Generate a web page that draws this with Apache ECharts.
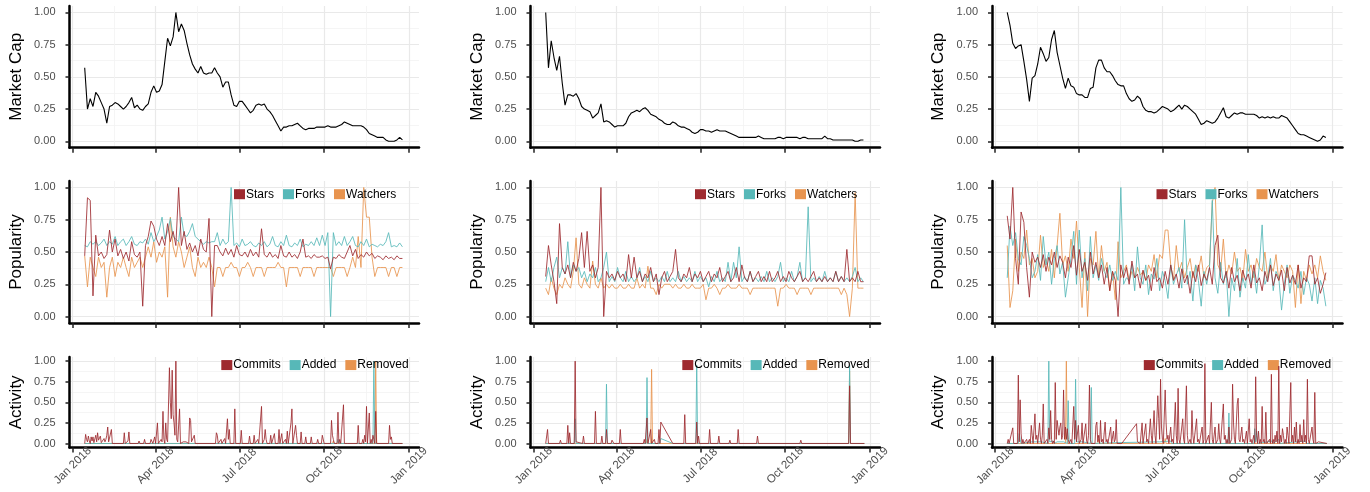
<!DOCTYPE html>
<html>
<head>
<meta charset="utf-8">
<script src="https://cdn.jsdelivr.net/npm/echarts@6/dist/echarts.min.js"></script>
<style>
html, body { margin: 0; padding: 0; background: #fff; }
#chart { width: 1370px; height: 492px; }
</style>
</head>
<body>
<div id="chart"></div>
<script>
// x values are days since 1 Jan 2018.
// market cap and popularity are read every 3 days starting at day 13
const gridStart = 13, gridStep = 3;
const tickDays = [0, 90, 181, 273, 365];
const tickLabels = ['Jan 2018', 'Apr 2018', 'Jul 2018', 'Oct 2018', 'Jan 2019'];
const minorDays = [45, 135.5, 227, 319];
const yTicks = [0, 0.25, 0.5, 0.75, 1];
const yMinor = [0.125, 0.375, 0.625, 0.875];

const rowTitles = ['Market Cap', 'Popularity', 'Activity'];
const popNames = ['Stars', 'Forks', 'Watchers'];
const actNames = ['Commits', 'Added', 'Removed'];

const capA = [0.57,0.25,0.33,0.27,0.38,0.35,0.30,0.25,0.14,0.27,
  0.28,0.30,0.29,0.27,0.25,0.27,0.30,0.34,0.26,0.28,
  0.25,0.24,0.27,0.29,0.38,0.43,0.38,0.39,0.44,0.62,
  0.80,0.74,0.81,1.00,0.85,0.91,0.86,0.76,0.67,0.60,
  0.56,0.53,0.58,0.53,0.52,0.53,0.53,0.57,0.53,0.50,
  0.42,0.46,0.46,0.36,0.28,0.27,0.31,0.31,0.28,0.25,
  0.22,0.24,0.28,0.29,0.28,0.29,0.25,0.23,0.20,0.16,
  0.12,0.08,0.11,0.11,0.12,0.12,0.13,0.14,0.12,0.10,
  0.09,0.10,0.10,0.10,0.11,0.11,0.11,0.11,0.12,0.11,
  0.11,0.11,0.12,0.13,0.15,0.14,0.13,0.12,0.12,0.12,
  0.12,0.11,0.09,0.06,0.05,0.04,0.03,0.03,0.03,0.01,
  0.00,0.00,0.00,0.01,0.03,0.01];
const capB = [1.00,0.57,0.78,0.65,0.55,0.66,0.45,0.28,0.36,0.36,
  0.35,0.37,0.33,0.27,0.25,0.24,0.23,0.18,0.20,0.22,
  0.29,0.15,0.16,0.15,0.13,0.11,0.12,0.12,0.12,0.14,
  0.19,0.22,0.23,0.24,0.23,0.25,0.26,0.24,0.21,0.20,
  0.19,0.17,0.16,0.14,0.13,0.13,0.15,0.14,0.12,0.11,
  0.11,0.10,0.09,0.07,0.06,0.07,0.09,0.09,0.08,0.08,
  0.07,0.08,0.09,0.08,0.08,0.08,0.07,0.06,0.05,0.04,
  0.03,0.03,0.03,0.03,0.03,0.03,0.03,0.04,0.03,0.02,
  0.02,0.02,0.02,0.02,0.03,0.03,0.02,0.03,0.03,0.03,
  0.03,0.03,0.02,0.03,0.03,0.02,0.02,0.02,0.02,0.02,
  0.02,0.04,0.02,0.02,0.01,0.01,0.01,0.01,0.01,0.01,
  0.01,0.01,0.00,0.00,0.01,0.01];
const capC = [1.00,0.90,0.76,0.72,0.74,0.75,0.62,0.48,0.31,0.49,
  0.51,0.60,0.73,0.68,0.62,0.65,0.79,0.86,0.69,0.59,
  0.49,0.41,0.49,0.43,0.42,0.37,0.36,0.36,0.34,0.34,
  0.41,0.42,0.57,0.63,0.63,0.57,0.54,0.54,0.51,0.47,
  0.44,0.43,0.43,0.37,0.33,0.31,0.32,0.35,0.33,0.27,
  0.24,0.23,0.23,0.22,0.23,0.25,0.27,0.26,0.25,0.23,
  0.24,0.26,0.28,0.25,0.28,0.27,0.25,0.23,0.21,0.17,
  0.13,0.14,0.16,0.15,0.14,0.15,0.18,0.22,0.26,0.19,
  0.18,0.20,0.22,0.21,0.22,0.22,0.21,0.21,0.21,0.21,
  0.20,0.18,0.19,0.18,0.19,0.18,0.19,0.18,0.18,0.20,
  0.19,0.18,0.15,0.12,0.09,0.06,0.05,0.05,0.04,0.03,
  0.02,0.01,0.00,0.01,0.04,0.03];

const starsA = [0.47,0.92,0.90,0.16,0.63,0.47,0.50,0.45,0.48,0.67,
  0.50,0.60,0.47,0.52,0.45,0.50,0.43,0.58,0.48,0.46,
  0.50,0.08,0.55,0.62,0.74,0.70,0.60,0.55,0.62,0.55,
  0.72,0.58,0.66,0.55,1.00,0.55,0.66,0.52,0.57,0.50,
  0.55,0.47,0.60,0.52,0.50,0.76,0.00,0.55,0.55,0.50,
  0.47,0.53,0.48,0.52,0.46,0.55,0.48,0.47,0.50,0.46,
  0.52,0.47,0.50,0.46,0.68,0.48,0.46,0.50,0.46,0.48,
  0.45,0.55,0.47,0.46,0.50,0.46,0.48,0.45,0.50,0.60,
  0.46,0.47,0.45,0.48,0.46,0.46,0.47,0.45,0.46,0.37,
  0.46,0.45,0.48,0.46,0.45,0.50,0.55,0.47,0.52,0.45,
  0.48,0.46,0.50,0.47,0.49,0.45,0.47,0.46,0.44,0.47,
  0.45,0.46,0.44,0.47,0.45,0.45];
const forksA = [0.55,0.54,0.58,0.56,0.58,0.55,0.57,0.60,0.55,0.58,
  0.56,0.62,0.55,0.58,0.60,0.55,0.58,0.62,0.56,0.55,
  0.58,0.57,0.60,0.56,0.65,0.58,0.62,0.67,0.77,0.60,
  0.66,0.76,0.62,0.60,0.58,0.77,0.63,0.62,0.66,0.72,
  0.62,0.60,0.58,0.56,0.58,0.57,0.58,0.58,0.65,0.55,
  0.60,0.56,0.58,1.00,0.55,0.57,0.54,0.60,0.55,0.56,
  0.58,0.55,0.54,0.57,0.55,0.58,0.54,0.56,0.62,0.55,
  0.54,0.58,0.55,0.63,0.55,0.54,0.57,0.55,0.60,0.54,
  0.56,0.55,0.58,0.55,0.61,0.55,0.63,0.55,0.65,0.00,
  0.65,0.55,0.58,0.55,0.62,0.55,0.58,0.62,0.55,0.54,
  0.58,0.55,0.60,0.54,0.56,0.55,0.54,0.56,0.55,0.58,
  0.65,0.54,0.55,0.54,0.57,0.54];
const watchersA = [0.47,0.23,0.46,0.38,0.31,0.46,0.38,0.42,0.15,0.38,
  0.46,0.31,0.42,0.38,0.46,0.38,0.31,0.46,0.38,0.42,
  0.46,0.38,0.46,0.54,0.46,0.58,0.42,0.50,0.46,0.54,
  0.15,0.77,0.54,0.46,0.58,0.50,0.38,0.46,0.54,0.38,
  0.31,0.46,0.38,0.42,0.38,0.46,0.38,0.23,0.38,0.38,
  0.31,0.38,0.38,0.42,0.38,0.38,0.31,0.38,0.38,0.42,
  0.38,0.31,0.38,0.38,0.38,0.31,0.38,0.38,0.38,0.38,
  0.42,0.38,0.38,0.23,0.38,0.38,0.38,0.38,0.31,0.38,
  0.38,0.38,0.38,0.31,0.38,0.38,0.38,0.38,0.38,0.38,
  0.31,0.38,0.38,0.38,0.38,0.31,0.38,0.46,0.38,0.62,
  0.38,1.00,0.77,0.77,0.46,0.31,0.38,0.38,0.38,0.38,
  0.31,0.38,0.38,0.31,0.38,0.38];

const starsB = [0.31,0.55,0.40,0.27,0.10,0.72,0.38,0.33,0.40,0.30,
  0.42,0.35,0.45,0.65,0.38,0.66,0.35,0.40,0.30,0.38,
  1.00,0.00,0.35,0.30,0.33,0.28,0.35,0.30,0.33,0.27,
  0.48,0.30,0.46,0.30,0.35,0.27,0.33,0.30,0.38,0.27,
  0.33,0.17,0.30,0.35,0.27,0.31,0.35,0.52,0.30,0.27,
  0.33,0.30,0.38,0.27,0.33,0.30,0.35,0.27,0.31,0.35,
  0.27,0.33,0.30,0.38,0.27,0.31,0.35,0.27,0.30,0.38,
  0.27,0.40,0.30,0.27,0.35,0.27,0.31,0.35,0.27,0.31,
  0.27,0.35,0.27,0.30,0.35,0.27,0.31,0.27,0.35,0.30,
  0.27,0.31,0.35,0.27,0.30,0.27,0.31,0.35,0.27,0.30,
  0.27,0.31,0.27,0.30,0.27,0.35,0.27,0.31,0.27,0.52,
  0.27,0.30,0.27,0.35,0.27,0.27];
const forksB = [0.27,0.38,0.27,0.38,0.46,0.30,0.38,0.33,0.58,0.30,
  0.40,0.35,0.38,0.30,0.35,0.27,0.33,0.30,0.38,0.27,
  0.30,0.38,0.50,0.27,0.31,0.27,0.38,0.30,0.27,0.35,
  0.27,0.31,0.27,0.30,0.38,0.27,0.31,0.27,0.35,0.27,
  0.30,0.27,0.31,0.27,0.35,0.27,0.30,0.27,0.35,0.27,
  0.31,0.27,0.30,0.27,0.35,0.27,0.31,0.27,0.30,0.23,
  0.31,0.27,0.35,0.27,0.30,0.27,0.42,0.27,0.42,0.30,
  0.54,0.27,0.31,0.27,0.35,0.27,0.30,0.27,0.31,0.27,
  0.35,0.27,0.30,0.27,0.31,0.42,0.27,0.30,0.27,0.35,
  0.27,0.31,0.42,0.27,0.30,0.85,0.27,0.30,0.27,0.31,
  0.27,0.35,0.27,0.30,0.27,0.35,0.27,0.31,0.27,0.30,
  0.27,0.31,0.38,0.27,0.30,0.27];
const watchersB = [0.22,0.17,0.30,0.22,0.17,0.25,0.22,0.30,0.25,0.22,
  0.35,0.61,0.25,0.22,0.30,0.25,0.22,0.43,0.25,0.22,
  0.30,0.22,0.25,0.22,0.25,0.22,0.22,0.25,0.22,0.22,
  0.25,0.22,0.22,0.30,0.22,0.25,0.22,0.39,0.22,0.22,
  0.17,0.25,0.22,0.25,0.25,0.25,0.22,0.25,0.22,0.22,
  0.25,0.22,0.22,0.25,0.22,0.22,0.22,0.25,0.13,0.22,
  0.22,0.25,0.22,0.17,0.22,0.22,0.25,0.22,0.22,0.22,
  0.25,0.22,0.22,0.22,0.17,0.22,0.22,0.22,0.22,0.22,
  0.22,0.22,0.22,0.22,0.08,0.22,0.22,0.25,0.22,0.22,
  0.22,0.17,0.22,0.22,0.22,0.22,0.17,0.22,0.22,0.22,
  0.22,0.22,0.22,0.22,0.22,0.22,0.22,0.17,0.22,0.17,
  0.00,0.22,0.96,0.22,0.22,0.22];

const starsC = [0.78,0.60,1.00,0.45,0.25,0.81,0.73,0.38,0.15,0.50,
  0.42,0.46,0.38,0.48,0.35,0.46,0.40,0.50,0.38,0.47,
  0.42,0.30,0.46,0.38,0.55,0.32,0.52,0.35,0.42,0.28,
  0.50,0.33,0.42,0.30,0.40,0.25,0.38,0.20,0.35,0.28,
  0.00,0.40,0.30,0.38,0.25,0.43,0.30,0.33,0.22,0.36,
  0.28,0.32,0.20,0.38,0.27,0.30,0.22,0.35,0.25,0.40,
  0.28,0.33,0.22,0.37,0.26,0.32,0.18,0.35,0.27,0.40,
  0.24,0.33,0.28,0.38,0.25,0.55,0.63,0.30,0.26,0.35,
  0.22,0.38,0.27,0.32,0.20,0.36,0.28,0.33,0.22,0.40,
  0.26,0.30,0.20,0.35,0.27,0.40,0.24,0.33,0.28,0.36,
  0.20,0.38,0.26,0.32,0.25,0.40,0.22,0.30,0.27,0.47,
  0.47,0.25,0.30,0.18,0.25,0.34];
const forksC = [0.30,0.70,0.55,0.65,0.45,0.40,0.62,0.55,0.45,0.30,
  0.35,0.48,0.28,0.62,0.40,0.50,0.25,0.45,0.55,0.33,
  0.42,0.15,0.30,0.45,0.66,0.25,0.67,0.30,0.45,0.20,
  0.62,0.30,0.40,0.28,0.45,0.35,0.30,0.40,0.28,0.35,
  0.28,1.00,0.25,0.30,0.28,0.40,0.20,0.54,0.30,0.25,
  0.40,0.17,0.33,0.29,0.45,0.20,0.35,0.28,0.14,0.40,
  0.25,0.32,0.38,0.22,0.75,0.25,0.35,0.12,0.40,0.28,
  0.08,0.35,0.25,0.38,0.90,0.30,0.18,0.42,0.25,0.35,
  0.00,0.30,0.20,0.45,0.15,0.30,0.22,0.48,0.25,0.35,
  0.18,0.40,0.71,0.25,0.30,0.45,0.20,0.35,0.30,0.05,
  0.25,0.40,0.18,0.32,0.28,0.22,0.35,0.17,0.30,0.25,
  0.12,0.30,0.10,0.28,0.22,0.08];
const watchersC = [0.55,0.07,0.20,0.60,0.35,0.50,0.45,0.67,0.40,0.45,
  0.30,0.35,0.63,0.38,0.45,0.35,0.52,0.30,0.55,0.80,
  0.40,0.47,0.35,0.60,0.45,0.74,0.38,0.07,0.50,0.00,
  0.45,0.40,0.66,0.30,0.55,0.35,0.42,0.20,0.35,0.13,
  0.58,0.30,0.35,0.40,0.28,0.35,0.30,0.38,0.32,0.35,
  0.28,0.40,0.35,0.48,0.30,0.48,0.45,0.67,0.67,0.40,
  0.28,0.55,0.35,0.42,0.30,0.38,0.45,0.30,0.40,0.35,
  0.47,0.30,0.38,0.40,0.88,1.00,0.40,0.35,0.60,0.30,
  0.40,0.33,0.50,0.35,0.38,0.28,0.52,0.35,0.40,0.30,
  0.45,0.38,0.35,0.50,0.30,0.40,0.35,0.48,0.28,0.40,
  0.35,0.30,0.40,0.35,0.07,0.40,0.10,0.35,0.28,0.40,
  0.33,0.40,0.30,0.47,0.35,0.28];

// activity: [day, value] vertices
const commitsA = [[13,0],[14,0.11],[15,0.05],[16,0.02],[17,0.09],[18,0.03],[19,0],[20,0.08],[21,0.03],[22,0.08],[23,0.01],[24,0],[25,0.10],[26,0.02],[27,0.13],[28,0.04],[29,0.05],[30,0.09],[31,0.01],[32,0.03],[33,0],[34,0.06],[35,0.02],[36,0.05],[37,0.10],[38,0.20],[39,0.02],[40,0.03],[41,0],[42,0.17],[43,0],
  [55,0],[56,0.13],[57,0],[59,0],[60,0.03],[61,0.14],[62,0],[71,0],[72,0.03],[73,0],[77,0],[78,0.05],[79,0],[84,0],[85,0.05],[86,0.03],[87,0],[88,0],[89,0.08],[90,0],[91,0],[92,0.25],[93,0],[95,0],[96,0.05],[97,0.02],[98,0.39],[99,0.05],[100,0],[101,0.25],[102,0.05],[103,0.02],[104,0],[105,0.92],[106,0.50],[107,0.30],[108,0.89],[109,0.35],[110,0.25],[111,0.10],[112,1.00],[113,0.05],[114,0.02],[115,0],[116,0.42],[117,0],[119,0],[120,0.02],[121,0],[123,0.02],[124,0],[126,0],[127,0.31],[128,0.28],[129,0.02],[130,0],[131,0],[132,0.10],[133,0],
  [155,0],[156,0.13],[157,0.10],[158,0],[160,0],[161,0.05],[162,0],[164,0],[165,0.06],[166,0],[167,0],[168,0.30],[169,0.05],[170,0.17],[171,0],[175,0],[176,0.42],[177,0],[182,0],[183,0.16],[184,0],[191,0],[192,0.09],[193,0],[196,0],[197,0.10],[198,0],[200,0],[201,0.05],[202,0],[204,0],[205,0.45],[206,0],[207,0],[208,0.05],[209,0.17],[210,0.05],[211,0],[214,0],[215,0.10],[216,0],[218,0],[219,0.12],[220,0],[223,0],[224,0.17],[225,0],[226,0],[227,0.12],[228,0],[230,0],[231,0.05],[232,0],[233,0.15],[234,0],[236,0],[237,0.25],[238,0.42],[239,0],[241,0],[242,0.22],[243,0.10],[244,0],[247,0],[248,0.14],[249,0],[252,0],[253,0.08],[254,0],[258,0],[259,0.08],[260,0],[265,0],[266,0.05],[267,0],[270,0],[271,0.10],[272,0.11],[273,0],
  [280,0],[281,0.28],[282,0.10],[283,0.05],[284,0],[287,0],[288,0.38],[289,0],[290,0.05],[291,0],[293,0],[294,0.47],[295,0],[297,0.02],[298,0],[309,0],[310,0.22],[311,0],[314,0],[315,0.05],[316,0],[317,0.10],[318,0.02],[319,0.45],[320,0],[321,0],[322,0.37],[323,0],[324,0.05],[325,0],[326,0.10],[327,0.05],[328,0],[329,0.39],[330,0],[343,0],[344,0.22],[345,0.05],[346,0.08],[347,0],[358,0]];
const addedA = [[13,0],[99,0],[100,0.01],[101,0],[287,0],[288,0.05],[289,0],[326,0],[327,1.00],[328,0],[358,0]];
const removedA = [[13,0],[282,0],[283,0.03],[284,0],[328,0],[329,1.00],[330,0],[358,0]];

const commitsB = [[13,0],[14,0],[15,0.17],[16,0],[28,0],[29,0.04],[30,0],[36,0],[37,0.22],[38,0],[39,0.13],[40,0],[44,0],[45,1.00],[46,0.02],[47,0],[53,0],[54,0.09],[55,0],[66,0],[67,0.39],[68,0],[73,0],[74,0.09],[75,0],[78,0],[79,0.17],[80,0],[84,0],[85,0.04],[86,0.02],[87,0],[93,0],[94,0.17],[95,0],
  [119,0],[120,0.05],[121,0],[122,0],[123,0.31],[124,0],[126,0],[127,0.17],[128,0],[130,0],[131,0.05],[132,0],[135,0],[136,0.17],[137,0],[138,0.26],[151,0],[163,0],[164,0.35],[165,0],[176,0],[177,0.26],[178,0],[179,0.09],[180,0],[190,0],[191,0.17],[192,0],[200,0],[201,0.09],[202,0],[212,0],[213,0.04],[214,0],[221,0],[222,0.17],[223,0],[242,0],[243,0.09],[244,0],[289,0],[290,0.04],[291,0],[342,0],[343,0.70],[344,0],[359,0]];
const addedB = [[13,0],[44,0],[45,0.30],[46,0],[78,0],[79,0.72],[80,0],[122,0],[123,0.80],[124,0],[137,0],[138,0.06],[151,0],[176,0],[177,0.95],[178,0],[342,0],[343,0.95],[344,0],[359,0]];
const removedB = [[13,0],[122,0],[123,0.05],[124,0],[127,0],[128,0.90],[129,0],[342,0],[343,0.88],[344,0],[359,0]];

const commitsC = [[13,0],[14,0.05],[15,0],[16,0.02],[17,0],[19,0.19],[20,0],[24,0],[25,0.83],[26,0.02],[27,0.53],[28,0.12],[29,0],[30,0.05],[31,0],[32,0.02],[34,0.05],[35,0],[37,0.05],[38,0],[39,0.22],[40,0.10],[41,0],[42,0.02],[43,0.36],[44,0.05],[45,0.10],[46,0],[48,0.25],[49,0.05],[50,0],[51,0.10],[52,0.48],[53,0],[56,0.05],[57,0],[58,0.19],[59,0.05],[60,0.40],[61,0.05],[62,0],[63,0.03],[64,0],[65,0.74],[66,0.05],[67,0.28],[68,0.30],[69,0.10],[70,0.20],[71,0.25],[72,0.05],[73,0.10],[74,0.65],[75,0.05],[76,0.20],[77,0.05],[78,0.18],[79,0.05],[80,0],[82,0.05],[83,0],[85,0.45],[86,0.05],[87,0.28],[88,0.02],[90,0.22],[91,0],[93,0.05],[94,0.25],[95,0],[97,0],[98,0.24],[99,0.03],[100,0],[101,0.10],[102,0.71],[103,0.05],[104,0],[108,0],[109,0.22],[110,0.26],[111,0.02],[112,0.10],[113,0],[114,0.28],[115,0.02],[116,0.05],[117,0],[119,0.26],[120,0.02],[121,0.05],[122,0],[124,0],[125,0.20],[126,0],[128,0.15],[129,0.02],[130,0.05],[131,0.29],[132,0],[137,0],
  [153,0.24],[154,0.02],[155,0],[157,0],[159,0.25],[160,0],[162,0],[163,0.24],[164,0.02],[165,0.05],[166,0],[168,0.30],[169,0.10],[170,0],[172,0.40],[173,0.10],[174,0],[176,0.58],[177,0.30],[178,0.05],[179,0.78],[180,0.20],[181,0.05],[182,0],[184,0.65],[185,0.25],[186,0.05],[187,0.10],[188,0],[190,0.20],[191,0.02],[192,0.05],[193,0],[195,0.50],[196,0.10],[197,0],[198,0.67],[199,0.05],[200,0],[201,0.02],[203,0.30],[204,0.05],[205,0],[207,0.70],[208,0.10],[209,0],[211,0.05],[212,0],[213,0.40],[214,0.10],[215,0],[218,0.30],[219,0.02],[220,0.05],[221,0],[223,0.02],[224,0.20],[225,0],[226,0.05],[227,0.97],[228,0],[230,0.02],[231,0.10],[232,0],[234,0.50],[235,0.05],[236,0],[238,0.20],[239,0],[241,0.05],[242,0.24],[243,0.05],[244,0],[247,0.48],[248,0.05],[249,0.10],[250,0],[251,0.05],[252,0],[253,0.20],[254,0],[256,0.05],[257,0.72],[258,0.25],[259,0.05],[260,0],[262,0.48],[263,0.55],[264,0.05],[265,0.02],[266,0],[267,0.20],[268,0.02],[269,0.05],[270,0],[272,0.15],[273,0],[275,0.30],[276,0.02],[277,0.05],[278,0],[279,0.02],[280,0.10],[281,0],
  [282,0.81],[283,0.10],[284,0],[285,0.15],[286,0],[287,0.05],[288,0],[289,0.45],[290,0.02],[291,0.05],[292,0],[293,0.38],[294,0],[297,0.05],[298,0],[299,0.84],[300,0],[301,0.05],[302,0],[303,0.10],[304,0.02],[305,0.15],[306,0],[307,0.94],[308,0],[309,0.10],[310,0.02],[311,0.18],[312,0.10],[313,0],[314,0.05],[315,0],[316,0.20],[317,0.10],[318,0],[320,0.74],[321,0.02],[322,0.10],[323,0],[324,0.20],[325,0.02],[326,0.26],[327,0],[328,0.05],[329,0],[330,0.23],[331,0.02],[332,0.10],[333,0],[334,0.29],[335,0.02],[336,0.10],[337,0],[338,0.78],[339,0.05],[340,0],[342,0.02],[343,0.20],[344,0.05],[345,0],[346,0.62],[347,0],[349,0],[350,0.02],[351,0],[359,0]];
const addedC = [[13,0],[25,0],[26,0.12],[27,0.05],[28,0],[40,0.02],[41,0],[50,0.02],[51,0],[57,0],[58,1.00],[59,0.02],[60,0],[63,0.03],[64,0],[67,0.02],[68,0.03],[69,0],[74,0.02],[75,0],[78,0],[79,0.52],[80,0.05],[81,0],[86,0],[87,0.78],[88,0.02],[89,0],[95,0.02],[96,0],[103,0],[104,0.68],[105,0],[130,0.01],[131,0],[178,0.02],[179,0],[190,0.03],[191,0],[252,0],[253,0.37],[254,0],[280,0],[281,0.18],[282,0.02],[283,0.15],[284,0],[300,0.03],[301,0],[307,0.05],[308,0],[336,0.03],[337,0],[359,0]];
const removedC = [[13,0],[76,0],[77,1.00],[78,0],[111,0],[112,0.05],[113,0],[183,0],[184,0.06],[185,0],[359,0]];

const columns = [
  { cap: capA, pop: [starsA, forksA, watchersA], act: [commitsA, addedA, removedA] },
  { cap: capB, pop: [starsB, forksB, watchersB], act: [commitsB, addedB, removedB] },
  { cap: capC, pop: [starsC, forksC, watchersC], act: [commitsC, addedC, removedC] }
];

const colors = ['#9e2a2f', '#57b8b8', '#e8944f'];
const font = 'Liberation Sans, Arial, Helvetica, sans-serif';
const colLeft = [69.5, 530.5, 992];
const colWidth = [349.5, 349.5, 350.5];
const rowTop = [6, 181, 357];
const rowHeight = [141.7, 142, 90.6];
const legendShift = [0, 164.5, 151.8];

function onGrid(arr) {
  return arr.map((v, i) => [gridStart + gridStep * i, v]);
}

const option = {
  animation: false,
  backgroundColor: '#fff',
  textStyle: { fontFamily: font },
  grid: [], xAxis: [], yAxis: [], legend: [], series: []
};

const majorLine = { color: '#e9e9e9', width: 1.2 };
const minorLine = { color: '#f3f3f3', width: 0.8 };

columns.forEach((col, c) => {
  for (let r = 0; r < 3; r++) {
    const g = option.grid.length;
    option.grid.push({
      left: colLeft[c], top: rowTop[r], width: colWidth[c], height: rowHeight[r],
      show: false, outerBoundsMode: 'none'
    });
    // main x axis: ticks, labels and major grid lines
    option.xAxis.push({
      gridIndex: g, type: 'value', min: -3.5, max: 376, position: 'bottom',
      axisLine: { show: true, onZero: false, lineStyle: { color: '#000', width: 2.5 } },
      axisTick: { show: true, customValues: tickDays, length: 5, lineStyle: { color: '#222', width: 1.5 } },
      axisLabel: {
        show: r === 2, customValues: tickDays, rotate: 45, align: 'center', verticalAlign: 'middle',
        margin: 18, fontSize: 11.5, color: '#4d4d4d',
        formatter: v => tickLabels[tickDays.indexOf(v)]
      },
      splitLine: { show: true, lineStyle: majorLine }
    });
    // minor x grid lines
    option.xAxis.push({
      gridIndex: g, type: 'value', min: -3.5, max: 376,
      axisLine: { show: false }, axisLabel: { show: false },
      axisTick: { show: false, customValues: minorDays },
      splitLine: { show: true, lineStyle: minorLine }
    });
    option.yAxis.push({
      gridIndex: g, type: 'value', min: -0.05, max: 1.05,
      name: rowTitles[r], nameLocation: 'middle', nameGap: 45,
      nameTextStyle: { fontSize: 17, color: '#000' },
      axisLine: { show: true, onZero: false, lineStyle: { color: '#000', width: 2.5 } },
      axisTick: { show: true, customValues: yTicks, length: 4, lineStyle: { color: '#222', width: 1.5 } },
      axisLabel: { customValues: yTicks, margin: 14, fontSize: 11, color: '#4d4d4d', formatter: v => v.toFixed(2) },
      splitLine: { show: true, lineStyle: majorLine }
    });
    option.yAxis.push({
      gridIndex: g, type: 'value', min: -0.05, max: 1.05,
      axisLine: { show: false }, axisLabel: { show: false },
      axisTick: { show: false, customValues: yMinor },
      splitLine: { show: true, lineStyle: minorLine }
    });

    const base = { type: 'line', xAxisIndex: 2 * g, yAxisIndex: 2 * g, symbol: 'none', showSymbol: false, silent: true, clip: true };
    if (r === 0) {
      option.series.push(Object.assign({}, base, {
        name: 'Market Cap', data: onGrid(col.cap), color: '#000', lineStyle: { width: 1.1, color: '#000' }
      }));
    } else {
      const names = r === 1 ? popNames : actNames;
      const sets = r === 1 ? col.pop.map(onGrid) : col.act;
      // draw the third series first so the red one sits on top
      for (let k = 2; k >= 0; k--) {
        option.series.push(Object.assign({}, base, {
          name: names[k], data: sets[k], color: colors[k], z: 4 - k,
          lineStyle: { width: 1, color: colors[k], opacity: 0.85 }
        }));
      }
      option.legend.push({
        data: names, left: colLeft[c] + legendShift[r], top: rowTop[r] + 0.1 * rowHeight[r] - 7,
        orient: 'horizontal', icon: 'rect', itemWidth: 11, itemHeight: 10, itemGap: 9, padding: 0,
        selectedMode: false, textStyle: { fontSize: 12, color: '#000', padding: [0, 0, 0, -4] }
      });
    }
  }
});

const chart = echarts.init(document.getElementById('chart'));
chart.setOption(option);
</script>
</body>
</html>
